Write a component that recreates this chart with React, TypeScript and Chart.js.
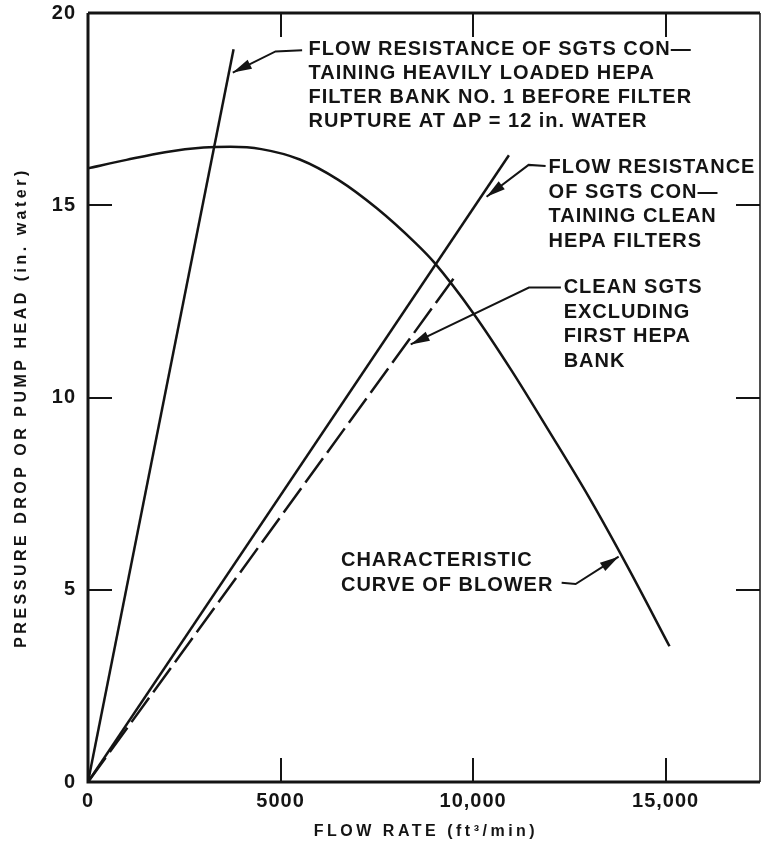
import React, { useEffect, useRef } from 'react';
import { Chart, registerables } from 'chart.js';

Chart.register(...registerables);

// ---------- data ----------
const xTickValues = [0, 5000, 10000, 15000];
const xTickLabels = ['0', '5000', '10,000', '15,000'];
const yTickValues = [0, 5, 10, 15, 20];
const yTickLabels = ['0', '5', '10', '15', '20'];

const heavyFlow = [0, 3780];
const heavyDrop = [0, 19.06];

const cleanFlow = [0, 10930];
const cleanDrop = [0, 16.3];

const partialFlow = [0, 9590];
const partialDrop = [0, 13.23];

const blowerFlow = [0, 1000, 2000, 3000, 3700, 4500, 5500, 6500, 7500, 8500, 9000, 10000, 11000, 12000, 13000, 14000, 15100];
const blowerHead = [15.96, 16.18, 16.38, 16.5, 16.52, 16.46, 16.19, 15.66, 14.92, 14.02, 13.5, 12.2, 10.7, 9.08, 7.42, 5.62, 3.53];

const noteHeavy = ['FLOW RESISTANCE OF SGTS CON—', 'TAINING HEAVILY LOADED HEPA', 'FILTER BANK NO. 1 BEFORE FILTER', 'RUPTURE AT ΔP = 12 in. WATER'];
const noteClean = ['FLOW RESISTANCE', 'OF SGTS CON—', 'TAINING CLEAN', 'HEPA FILTERS'];
const notePartial = ['CLEAN SGTS', 'EXCLUDING', 'FIRST HEPA', 'BANK'];
const noteBlower = ['CHARACTERISTIC', 'CURVE OF BLOWER'];

const xTitle = 'FLOW RATE (ft³/min)';
const yTitle = 'PRESSURE DROP OR PUMP HEAD (in. water)';

// ---------- layout / style ----------
const X_MIN = 0;
const X_MAX = 17450;
const Y_MIN = 0;
const Y_MAX = 20;
const INK = '#141414';
const FONT = '"Liberation Sans", Arial, Helvetica, sans-serif';

// annotation placement in data coordinates (text anchor, leader polyline ending at arrow tip)
const notes = [
  { lines: noteHeavy, at: [5727, 19.06], gap: 24, leader: [[5560, 19.03], [4870, 19.0], [3760, 18.45]] },
  { lines: noteClean, at: [11961, 15.97], gap: 24.5, leader: [[11883, 16.02], [11442, 16.05], [10350, 15.22]] },
  { lines: notePartial, at: [12351, 12.85], gap: 24.5, leader: [[12280, 12.86], [11450, 12.86], [8380, 11.38]] },
  { lines: noteBlower, at: [6568, 5.77], gap: 25, leader: [[12299, 5.18], [12662, 5.15], [13779, 5.86]] },
];

const xy = (xs: number[], ys: number[]) => xs.map((x, i) => ({ x, y: ys[i] }));

const framePlugin = {
  id: 'framePlugin',
  beforeDraw(chart: any) {
    chart.ctx.letterSpacing = '1px';
  },
  afterDraw(chart: any) {
    const { ctx, chartArea: a, scales } = chart;
    const xs = scales.x;
    const ys = scales.y;
    ctx.save();
    ctx.strokeStyle = INK;
    ctx.fillStyle = INK;
    ctx.lineCap = 'butt';

    // frame
    ctx.lineWidth = 3;
    ctx.beginPath();
    ctx.moveTo(a.left, a.top);
    ctx.lineTo(a.left, a.bottom);
    ctx.lineTo(a.right, a.bottom);
    ctx.moveTo(a.left, a.top);
    ctx.lineTo(a.right, a.top);
    ctx.stroke();
    ctx.lineWidth = 1.5;
    ctx.beginPath();
    ctx.moveTo(a.right, a.top);
    ctx.lineTo(a.right, a.bottom);
    ctx.stroke();

    // inward tick marks on all four sides
    ctx.lineWidth = 2;
    const TL = 24;
    ctx.beginPath();
    xTickValues.forEach((v) => {
      if (v <= X_MIN || v >= X_MAX) return;
      const px = Math.round(xs.getPixelForValue(v));
      ctx.moveTo(px, a.bottom);
      ctx.lineTo(px, a.bottom - TL);
      ctx.moveTo(px, a.top);
      ctx.lineTo(px, a.top + TL);
    });
    yTickValues.forEach((v) => {
      if (v <= Y_MIN || v >= Y_MAX) return;
      const py = Math.round(ys.getPixelForValue(v));
      ctx.moveTo(a.left, py);
      ctx.lineTo(a.left + TL, py);
      ctx.moveTo(a.right, py);
      ctx.lineTo(a.right - TL, py);
    });
    ctx.stroke();

    // axis titles
    ctx.font = `bold 16px ${FONT}`;
    ctx.letterSpacing = '3.5px';
    ctx.textAlign = 'center';
    ctx.textBaseline = 'middle';
    ctx.fillText(xTitle, (a.left + a.right) / 2 + 2, 832);
    ctx.save();
    ctx.translate(22, (a.top + a.bottom) / 2 + 12);
    ctx.rotate(-Math.PI / 2);
    ctx.letterSpacing = '3.5px';
    ctx.fillText(yTitle, 2, 0);
    ctx.restore();

    // annotations
    ctx.font = `bold 20px ${FONT}`;
    ctx.letterSpacing = '1px';
    ctx.textAlign = 'left';
    notes.forEach((n) => {
      const tx = xs.getPixelForValue(n.at[0]);
      const ty = ys.getPixelForValue(n.at[1]);
      n.lines.forEach((line, i) => ctx.fillText(line, tx, ty + i * n.gap));
      const pts = n.leader.map((p) => [xs.getPixelForValue(p[0]), ys.getPixelForValue(p[1])]);
      ctx.lineWidth = 2;
      ctx.beginPath();
      ctx.moveTo(pts[0][0], pts[0][1]);
      for (let i = 1; i < pts.length; i++) ctx.lineTo(pts[i][0], pts[i][1]);
      ctx.stroke();
      const tip = pts[pts.length - 1];
      const prev = pts[pts.length - 2];
      const ang = Math.atan2(tip[1] - prev[1], tip[0] - prev[0]);
      const L = 19;
      const W = 5;
      ctx.beginPath();
      ctx.moveTo(tip[0], tip[1]);
      ctx.lineTo(tip[0] - L * Math.cos(ang) + W * Math.sin(ang), tip[1] - L * Math.sin(ang) - W * Math.cos(ang));
      ctx.lineTo(tip[0] - L * Math.cos(ang) - W * Math.sin(ang), tip[1] - L * Math.sin(ang) + W * Math.cos(ang));
      ctx.closePath();
      ctx.fill();
    });
    ctx.restore();
  },
};

export default function App() {
  const ref = useRef<HTMLCanvasElement>(null);

  useEffect(() => {
    document.body.style.margin = '0';
    document.body.style.background = '#ffffff';
    const tickFont = { family: FONT, size: 20, weight: 'bold' as const };
    const lineBase = { borderColor: INK, borderWidth: 2.5, pointRadius: 0, fill: false, tension: 0 };
    const chart = new Chart(ref.current!, {
      type: 'line',
      data: {
        datasets: [
          { ...lineBase, label: 'Heavily loaded HEPA', data: xy(heavyFlow, heavyDrop) },
          { ...lineBase, label: 'Clean HEPA filters', data: xy(cleanFlow, cleanDrop) },
          { ...lineBase, label: 'Excluding first HEPA bank', data: xy(partialFlow, partialDrop), borderDash: [30, 7] },
          { ...lineBase, label: 'Blower', data: xy(blowerFlow, blowerHead), cubicInterpolationMode: 'monotone' },
        ] as any,
      },
      options: {
        animation: false,
        responsive: false,
        maintainAspectRatio: false,
        devicePixelRatio: 1,
        layout: { padding: { top: 13, right: 2, left: 0, bottom: 0 } },
        plugins: { legend: { display: false }, tooltip: { enabled: false } },
        scales: {
          x: {
            type: 'linear',
            min: X_MIN,
            max: X_MAX,
            grid: { display: false, drawTicks: false },
            border: { display: false },
            afterBuildTicks: (s: any) => {
              s.ticks = xTickValues.map((v) => ({ value: v }));
            },
            afterFit: (s: any) => {
              s.height = 66;
              s.paddingLeft = 0;
              s.paddingRight = 0;
            },
            ticks: {
              autoSkip: false,
              maxRotation: 0,
              padding: 7,
              color: INK,
              font: tickFont,
              callback: (v: any) => xTickLabels[xTickValues.indexOf(Number(v))] ?? '',
            },
          },
          y: {
            type: 'linear',
            min: Y_MIN,
            max: Y_MAX,
            grid: { display: false, drawTicks: false },
            border: { display: false },
            afterBuildTicks: (s: any) => {
              s.ticks = yTickValues.map((v) => ({ value: v }));
            },
            afterFit: (s: any) => {
              s.width = 88;
              s.paddingTop = 0;
              s.paddingBottom = 0;
            },
            ticks: {
              autoSkip: false,
              padding: 12,
              color: INK,
              font: tickFont,
              callback: (v: any) => yTickLabels[yTickValues.indexOf(Number(v))] ?? '',
            },
          },
        },
      } as any,
      plugins: [framePlugin],
    });
    return () => chart.destroy();
  }, []);

  return (
    <canvas ref={ref} width={762} height={848} style={{ display: 'block', width: 762, height: 848 }} />
  );
}
